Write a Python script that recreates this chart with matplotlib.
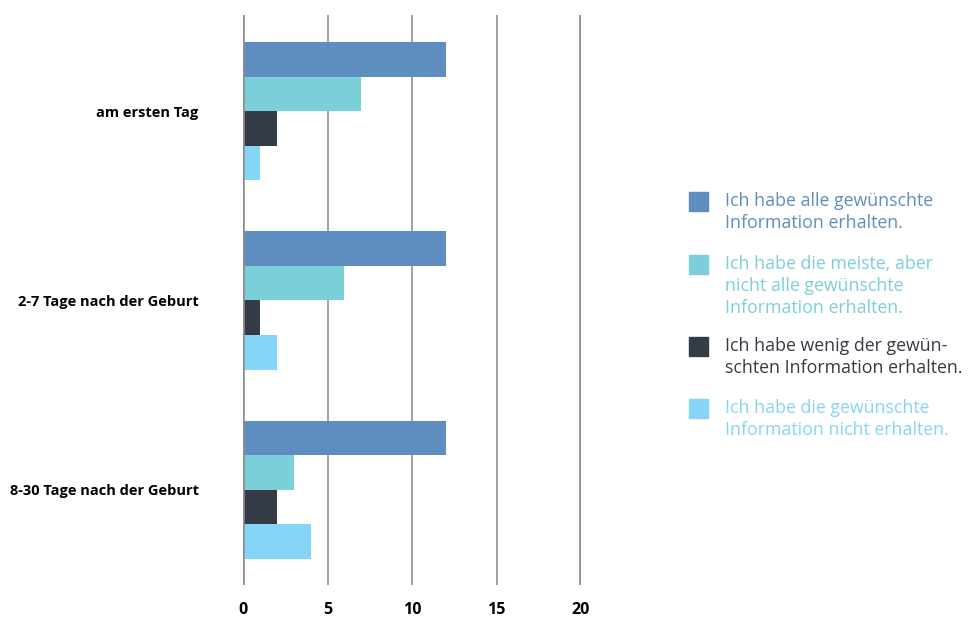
import matplotlib
matplotlib.use("Agg")
import matplotlib.pyplot as plt
from matplotlib.patches import Rectangle
import numpy as np

categories = ["am ersten Tag", "2-7 Tage nach der Geburt", "8-30 Tage nach der Geburt"]
series_labels = [
    "Ich habe alle gewünschte\nInformation erhalten.",
    "Ich habe die meiste, aber\nnicht alle gewünschte\nInformation erhalten.",
    "Ich habe wenig der gewün-\nschten Information erhalten.",
    "Ich habe die gewünschte\nInformation nicht erhalten.",
]
alle = [12, 12, 12]
meiste = [7, 6, 3]
wenig = [2, 1, 2]
nicht = [1, 2, 4]
x_ticks = [0, 5, 10, 15, 20]

colors = ["#5e8ebf", "#7bcfd8", "#343b46", "#84d5f8"]
series = [alle, meiste, wenig, nicht]

plt.rcParams["font.family"] = ["Open Sans", "DejaVu Sans"]

W, H = 969, 619
fig = plt.figure(figsize=(W / 100, H / 100), dpi=100)
ax = fig.add_axes([243 / W, 34 / H, (581 - 243) / W, (604 - 34) / H])

bar_h = 0.1825
y = np.arange(len(categories))
for i, (vals, col) in enumerate(zip(series, colors)):
    offs = (i - 1.5) * bar_h
    ax.barh(y + offs, vals, height=bar_h, color=col, edgecolor="none", zorder=3)

ax.set_xlim(0, 20)
ax.set_ylim(2.503, -0.508)

for v in x_ticks:
    if v in (0, 20):
        ax.axvline(v, color="#8e8e8e", lw=2.6, zorder=4 if v == 0 else 2)
    else:
        ax.axvline(v, color="#9a9a9a", lw=1.3, zorder=2)

for s in ax.spines.values():
    s.set_visible(False)
ax.set_xticks(x_ticks)
ax.set_xticklabels([str(v) for v in x_ticks], fontsize=11.5, fontweight="bold")
ax.tick_params(axis="x", length=0, pad=12)
ax.set_yticks(y)
ax.set_yticklabels(categories, fontsize=10.5, fontweight="bold")
ax.tick_params(axis="y", length=0, pad=32)

# legend drawn as colored squares with matching text, one line at a time
legend_tops = [201, 264, 346, 408]
line_step = 21.8
for lab, col, ty in zip(series_labels, colors, legend_tops):
    fig.add_artist(Rectangle((689 / W, 1 - (ty + 10) / H), 19 / W, 19 / H,
                             transform=fig.transFigure, color=col))
    for k, line in enumerate(lab.split("\n")):
        fig.text(725 / W, 1 - (ty + k * line_step) / H, line, color=col,
                 fontsize=12.8, va="center", ha="left")

fig.savefig("out.png", dpi=100)
